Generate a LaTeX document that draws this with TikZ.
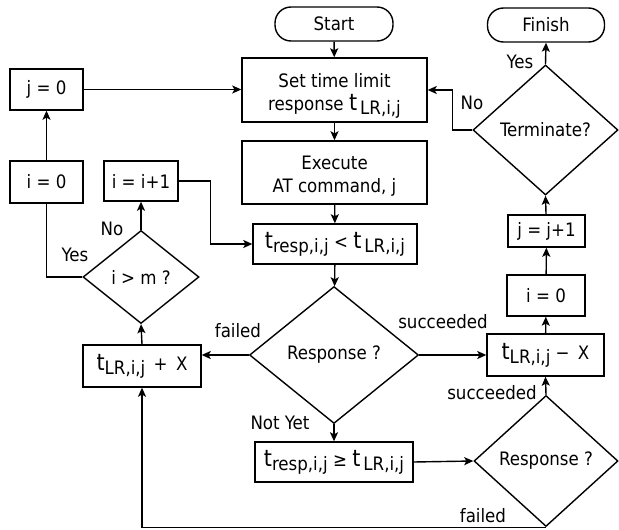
\documentclass[tikz,border=0pt]{standalone}
\usepackage{fontspec}
\setmainfont{DejaVu Sans Condensed}
\usetikzlibrary{shapes.geometric,arrows.meta}

% t with a lowered index, as used in the timing boxes
\newcommand{\tidx}[1]{{\fontsize{23}{23}\selectfont t}\raisebox{-4pt}{#1}}

\begin{document}
\begin{tikzpicture}[x=1pt,y=-1pt,
  every node/.style={font=\fontsize{18.5}{23}\selectfont},
  box/.style={draw,line width=1.4pt,rectangle,inner sep=0pt,align=center},
  term/.style={draw,line width=1.4pt,rectangle,rounded corners=16pt,inner sep=0pt,
    minimum height=34pt},
  decision/.style={draw,line width=1.4pt,diamond,inner sep=0pt,aspect=1},
  flow/.style={line width=1.4pt,-{Stealth[length=9pt,width=8pt,inset=2pt]}},
  plain/.style={line width=1.4pt},
  lbl/.style={inner sep=0pt}
]
\useasboundingbox (0,0) rectangle (619,530);

% terminals
\node[term,minimum width=118pt] (start) at (334,24) {Start};
\node[term,minimum width=117pt] (finish) at (546,25) {Finish};

% centre column
\node[box,minimum width=185pt,minimum height=64pt] (setlim) at (334.5,90)
  {\rule{0pt}{26pt}Set time limit\\response \tidx{\,LR,i,j}};
\node[box,minimum width=185pt,minimum height=63pt] (exec) at (334.5,172.5)
  {\rule{0pt}{21pt}Execute\\AT command, j};
\node[box,minimum width=164pt,minimum height=40pt] (tless) at (335,244)
  {\tidx{resp,i,j} < \tidx{\,LR,i,j}};
\node[decision,minimum width=169pt,minimum height=137pt] (resp) at (334,355)
  {Response ?};
\node[box,minimum width=158pt,minimum height=40pt] (tgeq) at (334,462)
  {\tidx{resp,i,j} ≥ \tidx{\,LR,i,j}};

% right column
\node[decision,minimum width=144pt,minimum height=131pt] (resp2) at (546,461)
  {Response ?};
\node[box,minimum width=117pt,minimum height=42pt] (tminus) at (545.5,355)
  {\tidx{LR,i,j} −\, X};
\node[box,minimum width=78pt,minimum height=41pt] (izeroR) at (546,295.5) {i = 0};
\node[box,minimum width=77pt,minimum height=32pt] (jinc) at (546.5,231) {j = j+1};
\node[decision,minimum width=145pt,minimum height=130pt] (termq) at (545.5,130)
  {Terminate?};

% left columns
\node[box,minimum width=73pt,minimum height=41pt] (jzero) at (46.5,89.5) {j = 0};
\node[box,minimum width=73pt,minimum height=42pt] (izero) at (46.5,182) {i = 0};
\node[box,minimum width=74pt,minimum height=40pt] (iinc) at (141,181) {i = i+1};
\node[decision,minimum width=116pt,minimum height=93pt] (igtm) at (141,277)
  {i > m ?};
\node[box,minimum width=118pt,minimum height=42pt] (tplus) at (142,366)
  {\tidx{LR,i,j} \,+\, X};

% main sequence
\draw[flow] (start) -- (setlim);
\draw[flow] (setlim) -- (exec);
\draw[flow] (exec) -- (tless);
\draw[flow] (tless) -- (resp);
\draw[flow] (resp.east) -- (tminus.west);
\draw[flow] (resp.west) -- (resp.west -| tplus.east);
\draw[flow] (resp.south) -- (tgeq.north);
\draw[flow] (tgeq.east) -- (resp2.west);
\draw[flow] (resp2.north) -- (tminus.south);
\draw[flow] (resp2.south) -| (tplus.south);

% success path
\draw[flow] (tminus) -- (izeroR);
\draw[flow] (izeroR) -- (jinc);
\draw[flow] (jinc) -- (termq.south);
\draw[flow] (termq.north) -- (finish.south);
\draw[flow] (termq.west) -- ++(-20,0) |- (setlim.east);

% retry loop
\draw[flow] (tplus.north) -- (igtm.south);
\draw[flow] (igtm.north) -- (iinc.south);
\draw[flow] (iinc.east) -- ++(32,0) |- (tless.west);
\draw[plain] (igtm.west) -| (izero.south);
\draw[flow] (izero) -- (jzero);
\draw[flow] (jzero.east) -- (jzero.east -| setlim.west);

% branch labels
\node[lbl] at (520,62) {Yes};
\node[lbl] at (472,103) {No};
\node[lbl] at (112,229) {No};
\node[lbl] at (75,255) {Yes};
\node[lbl] at (238,331) {failed};
\node[lbl] at (443,322) {succeeded};
\node[lbl] at (492,393) {succeeded};
\node[lbl] at (280,423) {Not Yet};
\node[lbl] at (483,516) {failed};
\end{tikzpicture}
\end{document}
